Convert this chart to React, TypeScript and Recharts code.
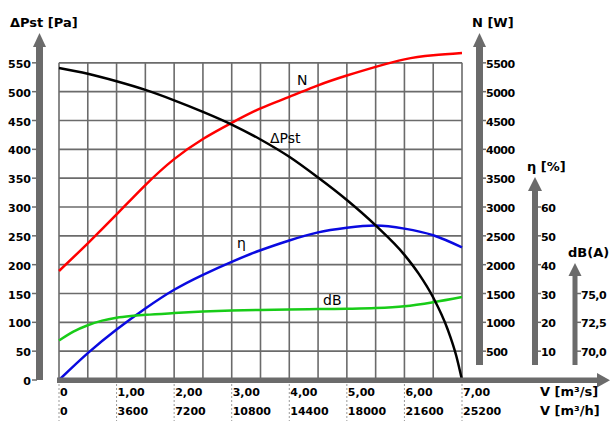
import React from "react";
import { LineChart, Line, XAxis, YAxis, ReferenceLine } from "recharts";

// axis ticks / labels
const flowTicks = [0, 1, 2, 3, 4, 5, 6, 7];
const flowLabels = ["0", "1,00", "2,00", "3,00", "4,00", "5,00", "6,00", "7,00"];
const flowHourLabels = ["0", "3600", "7200", "10800", "14400", "18000", "21600", "25200"];
const gridFlow = [0, 0.5, 1, 1.5, 2, 2.5, 3, 3.5, 4, 4.5, 5, 5.5, 6, 6.5, 7];
const paTicks = [0, 50, 100, 150, 200, 250, 300, 350, 400, 450, 500, 550];
const powerTicks = [500, 1000, 1500, 2000, 2500, 3000, 3500, 4000, 4500, 5000, 5500];
const etaTicks = [10, 20, 30, 40, 50, 60];
const dbTicks = [70, 72.5, 75];

// static pressure curve [Pa]
const pstFlow = [0, 0.5, 1, 1.5, 2, 2.5, 3, 3.5, 4, 4.5, 5, 5.5, 6, 6.25, 6.5, 6.75, 6.9, 7];
const pstValues = [541, 531, 518, 503, 485, 465, 443, 417, 387, 351, 312, 268, 217, 184, 143, 88, 42, 0];

// power [W]
const powerFlow = [0, 0.5, 1, 1.5, 2, 2.5, 3, 3.5, 4, 4.5, 5, 5.5, 6, 6.5, 7];
const powerValues = [1890, 2370, 2870, 3380, 3830, 4180, 4460, 4710, 4910, 5110, 5280, 5430, 5560, 5630, 5670];

// efficiency [%]
const etaFlow = [0, 0.5, 1, 1.5, 2, 2.5, 3, 3.5, 4, 4.5, 5, 5.5, 6, 6.5, 7];
const etaValues = [0, 9.3, 17.5, 24.8, 31.3, 36.5, 41.0, 45.0, 48.4, 51.2, 52.8, 53.6, 52.5, 50.2, 46.0];

// noise [dB(A)]
const dbFlow = [0, 0.25, 0.5, 0.75, 1, 1.25, 1.5, 2, 2.5, 3, 3.5, 4, 4.5, 5, 5.5, 6, 6.5, 7];
const dbValues = [70.93, 71.7, 72.25, 72.65, 72.9, 73.05, 73.15, 73.3, 73.43, 73.52, 73.58, 73.62, 73.65, 73.68, 73.74, 73.9, 74.25, 74.7];

const pstData = pstFlow.map((v, i) => ({ v, pst: pstValues[i] }));
const powerData = powerFlow.map((v, i) => ({ v, n: powerValues[i] }));
const etaData = etaFlow.map((v, i) => ({ v, eta: etaValues[i] }));
const dbData = dbFlow.map((v, i) => ({ v, db: dbValues[i] }));

const GRAY = "#6b6b6b";
const FONT = "'DejaVu Sans', Verdana, sans-serif";
const tickText = { fontFamily: FONT, fontSize: 11, fontWeight: 700, fill: "#000" };
const titleText = { fontFamily: FONT, fontSize: 13, fontWeight: 700, fill: "#000" };
const curveText = { fontFamily: FONT, fontSize: 14, fill: "#000" };

function LeftTick(props: any) {
  const { y, payload } = props;
  return (
    <g>
      <line x1={32} x2={37} y1={y} y2={y} stroke={GRAY} strokeWidth={1.5} />
      <text x={31} y={y + 5} textAnchor="end" {...tickText}>{payload.value}</text>
    </g>
  );
}

function rightTick(x0: number, fmt: (v: number) => string) {
  return (props: any) => {
    const { y, payload } = props;
    return (
      <g>
        <line x1={x0} x2={x0 + 4} y1={y} y2={y} stroke={GRAY} strokeWidth={1.5} />
        <text x={x0 + 4} y={y + 5} textAnchor="start" {...tickText} letterSpacing={-0.5}>
          {fmt(payload.value)}
        </text>
      </g>
    );
  };
}

function FlowTick(props: any) {
  const { x, payload } = props;
  const i = flowTicks.indexOf(payload.value);
  return (
    <g>
      <line x1={x} x2={x} y1={384} y2={421} stroke="#999" strokeWidth={1} strokeDasharray="2 2" />
      <text x={x + 1} y={396} {...tickText}>{flowLabels[i]}</text>
      <text x={x + 1} y={415} {...tickText}>{flowHourLabels[i]}</text>
    </g>
  );
}

function VArrow({ cx, top, bottom, w, hw, hh }: any) {
  return (
    <g fill={GRAY}>
      <rect x={cx - w / 2} y={top + hh - 2} width={w} height={bottom - top - hh + 2} />
      <polygon points={`${cx},${top} ${cx - hw},${top + hh} ${cx + hw},${top + hh}`} />
    </g>
  );
}

export default function App() {
  return (
    <div style={{ position: "absolute", left: 0, top: 0, width: 612, height: 421, background: "#fff" }}>
      <LineChart width={612} height={421} margin={{ top: 34, right: 0, bottom: 0, left: 0 }}>
        {paTicks.map((g) => (
          <ReferenceLine
            key={`h${g}`}
            yAxisId="pa"
            segment={[{ x: 0, y: g }, { x: 7, y: g }]}
            stroke={GRAY}
            strokeWidth={1.6}
          />
        ))}
        {gridFlow.map((g) => (
          <ReferenceLine
            key={`v${g}`}
            yAxisId="pa"
            segment={[{ x: g, y: 0 }, { x: g, y: 550 }]}
            stroke={GRAY}
            strokeWidth={1.6}
          />
        ))}
        <XAxis
          type="number"
          dataKey="v"
          domain={[0, 7]}
          ticks={flowTicks}
          interval={0}
          height={41}
          axisLine={false}
          tickLine={false}
          tick={FlowTick}
        />
        <YAxis yAxisId="pa" orientation="left" width={59} domain={[0, 600]} ticks={paTicks} interval={0}
          axisLine={false} tickLine={false} tick={LeftTick} />
        <YAxis yAxisId="n" orientation="right" width={60} domain={[0, 6000]} ticks={powerTicks} interval={0}
          axisLine={false} tickLine={false} tick={rightTick(482, (v) => String(v))} />
        <YAxis yAxisId="eta" orientation="right" width={45} domain={[0, 120]} ticks={etaTicks} interval={0}
          axisLine={false} tickLine={false} tick={rightTick(537, (v) => String(v))} />
        <YAxis yAxisId="db" orientation="right" width={45} domain={[67.5, 97.5]} ticks={dbTicks} interval={0}
          axisLine={false} tickLine={false} tick={rightTick(577, (v) => v.toFixed(1).replace(".", ","))} />

        <Line yAxisId="n" data={powerData} dataKey="n" type="natural" stroke="#ff0000" strokeWidth={2.5} dot={false} isAnimationActive={false} />
        <Line yAxisId="eta" data={etaData} dataKey="eta" type="natural" stroke="#0a0ae0" strokeWidth={2.5} dot={false} isAnimationActive={false} />
        <Line yAxisId="db" data={dbData} dataKey="db" type="monotone" stroke="#18cc18" strokeWidth={2.5} dot={false} isAnimationActive={false} />
        <Line yAxisId="pa" data={pstData} dataKey="pst" type="monotone" stroke="#000" strokeWidth={2.5} dot={false} isAnimationActive={false} />
      </LineChart>

      <svg width={612} height={421} style={{ position: "absolute", left: 0, top: 0, pointerEvents: "none" }}>
        {/* axis bars with arrows */}
        <VArrow cx={39.5} top={33} bottom={380} w={7} hw={6.5} hh={14} />
        <VArrow cx={479.5} top={33} bottom={365} w={7} hw={6.5} hh={14} />
        <VArrow cx={535} top={177} bottom={365} w={6} hw={7} hh={14} />
        <VArrow cx={575} top={263} bottom={365} w={5} hw={6.5} hh={13} />
        <g fill={GRAY}>
          <rect x={57} y={377.5} width={542} height={5.5} />
          <polygon points="610,380.3 597,373 597,387.5" />
        </g>

        {/* axis titles */}
        <text x={10} y={27} {...titleText}>ΔPst [Pa]</text>
        <text x={472} y={27} {...titleText}>N [W]</text>
        <text x={527} y={171} {...titleText}>η [%]</text>
        <text x={568} y={257} {...titleText}>dB(A)</text>
        <text x={540} y={396} {...titleText}>V [m³/s]</text>
        <text x={540} y={415} {...titleText}>V [m³/h]</text>

        {/* curve labels */}
        <text x={297} y={85} {...curveText}>N</text>
        <text x={270} y={143} {...curveText}>ΔPst</text>
        <text x={237} y={248} {...curveText}>η</text>
        <text x={323} y={305} {...curveText}>dB</text>
      </svg>
    </div>
  );
}
